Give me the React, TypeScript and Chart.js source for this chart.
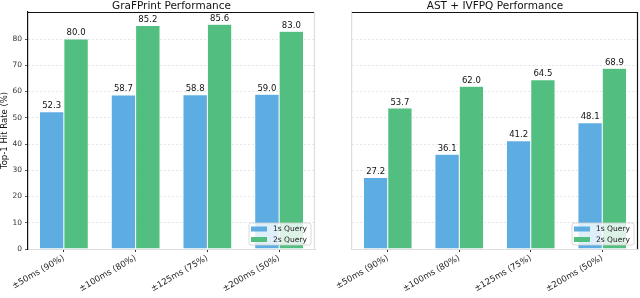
import React, { useEffect, useRef } from "react";
import { Chart, registerables } from "chart.js";

Chart.register(...registerables);

const categories = ["±50ms (90%)", "±100ms (80%)", "±125ms (75%)", "±200ms (50%)"];
const seriesNames = ["1s Query", "2s Query"];
const grafprint1s = [52.3, 58.7, 58.8, 59.0];
const grafprint2s = [80.0, 85.2, 85.6, 83.0];
const astIvfpq1s = [27.2, 36.1, 41.2, 48.1];
const astIvfpq2s = [53.7, 62.0, 64.5, 68.9];
const yTicks = [0, 10, 20, 30, 40, 50, 60, 70, 80];

const BLUE = "#5DADE2";
const GREEN = "#52BE80";
const FONT = "'DejaVu Sans', sans-serif";

type PanelOpts = {
  title: string;
  s1: number[];
  s2: number[];
  showYLabels: boolean;
  yWidth: number;
  padRight: number;
  leftSpineColor: string;
  rightSpineColor: string;
};

const spinesPlugin = {
  id: "spines",
  afterDraw(chart: any, _args: any, opts: any) {
    const { ctx, chartArea } = chart;
    const { left, right, top, bottom } = chartArea;
    ctx.save();
    ctx.lineWidth = 1.2;
    ctx.strokeStyle = "#111";
    ctx.beginPath();
    ctx.moveTo(left, top + 0.5);
    ctx.lineTo(right, top + 0.5);
    ctx.stroke();
    ctx.strokeStyle = opts.rightColor;
    ctx.beginPath();
    ctx.moveTo(right - 0.5, top);
    ctx.lineTo(right - 0.5, bottom);
    ctx.stroke();
    // title centred over the plot area
    ctx.fillStyle = "#111";
    ctx.font = `10.5px ${FONT}`;
    ctx.textAlign = "center";
    ctx.textBaseline = "middle";
    ctx.fillText(opts.title, (left + right) / 2, top / 2);
    ctx.restore();
  },
};

const valueLabelsPlugin = {
  id: "valueLabels",
  afterDatasetsDraw(chart: any) {
    const { ctx } = chart;
    ctx.save();
    ctx.font = `8.5px ${FONT}`;
    ctx.fillStyle = "#111";
    ctx.textAlign = "center";
    ctx.textBaseline = "bottom";
    chart.data.datasets.forEach((ds: any, i: number) => {
      const meta = chart.getDatasetMeta(i);
      meta.data.forEach((bar: any, j: number) => {
        ctx.fillText(ds.data[j].toFixed(1), bar.x, bar.y - 1.5);
      });
    });
    ctx.restore();
  },
};

const boxLegendPlugin = {
  id: "boxLegend",
  afterDraw(chart: any) {
    const { ctx, chartArea } = chart;
    const w = 62;
    const h = 22;
    const x = chartArea.right - 4 - w;
    const y = chartArea.bottom - 4 - h;
    ctx.save();
    ctx.fillStyle = "rgba(255,255,255,0.8)";
    ctx.strokeStyle = "#d0d0d0";
    ctx.lineWidth = 0.8;
    ctx.beginPath();
    (ctx as any).roundRect(x, y, w, h, 2);
    ctx.fill();
    ctx.stroke();
    ctx.font = `7.5px ${FONT}`;
    ctx.textBaseline = "middle";
    ctx.textAlign = "left";
    chart.data.datasets.forEach((ds: any, i: number) => {
      const cy = y + 6 + i * 10.5;
      ctx.fillStyle = ds.backgroundColor;
      ctx.fillRect(x + 2, cy - 2.5, 16, 5);
      ctx.fillStyle = "#222";
      ctx.fillText(ds.label, x + 24, cy + 0.5);
    });
    ctx.restore();
  },
};

function Panel(p: PanelOpts) {
  const ref = useRef<HTMLCanvasElement>(null);
  useEffect(() => {
    const chart = new Chart(ref.current!, {
      type: "bar",
      data: {
        labels: categories,
        datasets: [
          { label: seriesNames[0], data: p.s1, backgroundColor: BLUE, borderColor: "rgba(255,255,255,0.6)", borderWidth: 0.5 },
          { label: seriesNames[1], data: p.s2, backgroundColor: GREEN, borderColor: "rgba(255,255,255,0.6)", borderWidth: 0.5 },
        ],
      },
      options: {
        animation: false,
        responsive: false,
        maintainAspectRatio: false,
        layout: { padding: { left: 0, right: p.padRight, top: 12, bottom: 0 } },
        datasets: { bar: { categoryPercentage: 0.68, barPercentage: 1.0 } },
        plugins: {
          legend: { display: false },
          tooltip: { enabled: false },
          title: { display: false },
          spines: { rightColor: p.rightSpineColor, title: p.title },
        } as any,
        scales: {
          x: {
            grid: {
              display: true,
              drawOnChartArea: false,
              drawTicks: true,
              tickLength: 3,
              color: "#333",
              offset: false,
            },
            border: { color: "#dddddd", width: 1 },
            ticks: {
              minRotation: 30,
              maxRotation: 30,
              color: "#222",
              padding: 1,
              font: { family: FONT, size: 8.5 },
            },
            afterFit: (s: any) => {
              s.height = 49;
            },
          },
          y: {
            min: 0,
            max: 90.3,
            afterBuildTicks: (s: any) => {
              s.ticks = yTicks.map((v) => ({ value: v }));
            },
            grid: {
              color: "rgba(0,0,0,0.13)",
              lineWidth: 0.8,
              drawTicks: p.showYLabels,
              tickLength: 3,
              tickColor: "#333",
              tickBorderDash: [],
            },
            border: { color: p.leftSpineColor, width: 1.2, dash: [2, 2] },
            ticks: {
              display: p.showYLabels,
              color: "#333",
              padding: 3,
              font: { family: FONT, size: 7.5 },
            },
            title: {
              display: p.showYLabels,
              text: "Top-1 Hit Rate (%)",
              color: "#111",
              font: { family: FONT, size: 8.5 },
              padding: 0,
            },
            afterFit: (s: any) => {
              s.width = p.yWidth;
            },
          },
        },
      },
      plugins: [spinesPlugin, valueLabelsPlugin, boxLegendPlugin],
    } as any);
    return () => chart.destroy();
  }, []);
  return <canvas ref={ref} width={320} height={298} style={{ display: "block", width: 320, height: 298 }} />;
}

export default function App() {
  useEffect(() => {
    document.body.style.margin = "0";
  }, []);
  return (
    <div style={{ position: "fixed", left: 0, top: 0, width: 640, height: 298, display: "flex", background: "#fff" }}>
      <Panel
        title="GraFPrint Performance"
        s1={grafprint1s}
        s2={grafprint2s}
        showYLabels={true}
        yWidth={28}
        padRight={5}
        leftSpineColor="#111"
        rightSpineColor="#dddddd"
      />
      <Panel
        title="AST + IVFPQ Performance"
        s1={astIvfpq1s}
        s2={astIvfpq2s}
        showYLabels={false}
        yWidth={32}
        padRight={2}
        leftSpineColor="#dddddd"
        rightSpineColor="#111"
      />
    </div>
  );
}
